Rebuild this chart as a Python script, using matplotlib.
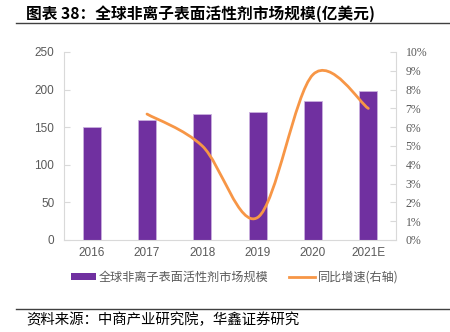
import matplotlib
matplotlib.use("Agg")
import matplotlib.pyplot as plt
from matplotlib.path import Path
from matplotlib.patches import PathPatch, Patch
from matplotlib.lines import Line2D
from matplotlib.ticker import FuncFormatter

plt.rcParams['font.family'] = ['Noto Sans CJK SC', 'DejaVu Sans']

years = ["2016", "2017", "2018", "2019", "2020", "2021E"]
market = [150, 160, 168, 170, 185, 198]
growth_years = ["2017", "2018", "2019", "2020", "2021E"]
growth = [6.7, 5.0, 1.2, 8.8, 7.0]

title = "图表 38：全球非离子表面活性剂市场规模(亿美元)"
bar_label = "全球非离子表面活性剂市场规模"
line_label = "同比增速(右轴)"
source = "资料来源：中商产业研究院，华鑫证券研究"

W, H = 450, 332
fig = plt.figure(figsize=(W / 100, H / 100), dpi=100)

ax = fig.add_axes([64 / W, 1 - 240 / H, (396 - 64) / W, (240 - 52) / H])
xs = list(range(len(years)))
ax.bar(xs, market, width=0.33, color="#7030A0", edgecolor="#c9b0de", linewidth=0.6, zorder=2)
ax.set_xlim(-0.5, len(years) - 0.5)
ax.set_ylim(0, 250)
ax.set_yticks(range(0, 251, 50))
ax.set_xticks(xs)
ax.set_xticklabels(years)
for s in ["top", "right"]:
    ax.spines[s].set_visible(False)
for s in ["left", "bottom"]:
    ax.spines[s].set_color("#d9d9d9")
    ax.spines[s].set_linewidth(0.8)
ax.tick_params(axis="y", direction="in", length=4, color="#d9d9d9", labelsize=8.5,
               labelcolor="#595959", pad=7)
ax.tick_params(axis="x", length=0, labelsize=8.5, labelcolor="#595959", pad=5)
for lab in ax.get_yticklabels() + ax.get_xticklabels():
    lab.set_fontfamily("Liberation Sans")

ax2 = ax.twinx()
ax2.set_ylim(0, 10)
ax2.set_yticks(range(0, 11))
ax2.yaxis.set_major_formatter(FuncFormatter(lambda v, p: f"{int(v)}%"))
for s in ["top", "left", "bottom"]:
    ax2.spines[s].set_visible(False)
ax2.spines["right"].set_color("#d9d9d9")
ax2.spines["right"].set_linewidth(0.8)
ax2.tick_params(axis="y", direction="in", length=4, color="#d9d9d9", labelsize=8.5,
                labelcolor="#595959", pad=7)
for lab in ax2.get_yticklabels():
    lab.set_fontfamily("Liberation Serif")

# smooth line (Catmull-Rom as Bezier through the data points)
gx = [years.index(y) for y in growth_years]
pts = list(zip(gx, growth))
verts = [pts[0]]
codes = [Path.MOVETO]
n = len(pts)
for i in range(n - 1):
    p0 = pts[i - 1] if i > 0 else pts[i]
    p1 = pts[i]
    p2 = pts[i + 1]
    p3 = pts[i + 2] if i + 2 < n else pts[i + 1]
    c1 = (p1[0] + (p2[0] - p0[0]) / 6, p1[1] + (p2[1] - p0[1]) / 6)
    c2 = (p2[0] - (p3[0] - p1[0]) / 6, p2[1] - (p3[1] - p1[1]) / 6)
    verts += [c1, c2, p2]
    codes += [Path.CURVE4] * 3
ax2.add_patch(PathPatch(Path(verts, codes), facecolor="none", edgecolor="#F79646",
                        linewidth=2.0, capstyle="round", zorder=3))

# legend
handles = [Patch(facecolor="#7030A0", edgecolor="none"),
           Line2D([0], [0], color="#F79646", linewidth=2)]
leg = fig.legend(handles, [bar_label, line_label], loc="center", ncol=2,
                 bbox_to_anchor=(0.521, 1 - 277 / H), frameon=False, fontsize=8.7,
                 handlelength=2.1, handleheight=0.5, columnspacing=1.7, handletextpad=0.25)
for t in leg.get_texts():
    t.set_color("#595959")

# title, rules, source
fig.text(26 / W, 1 - 14 / H, title, fontsize=11.3, fontweight="bold", va="center", ha="left",
         color="#000000")
fig.add_artist(Line2D([16 / W, 1], [1 - 23 / H, 1 - 23 / H], color="#404040", linewidth=1.0))
fig.add_artist(Line2D([16 / W, 1], [1 - 309 / H, 1 - 309 / H], color="#404040", linewidth=1.0))
fig.text(26 / W, 1 - 320 / H, source, fontsize=10.4, va="center", ha="left", color="#000000")

fig.savefig("out.png", dpi=100)
